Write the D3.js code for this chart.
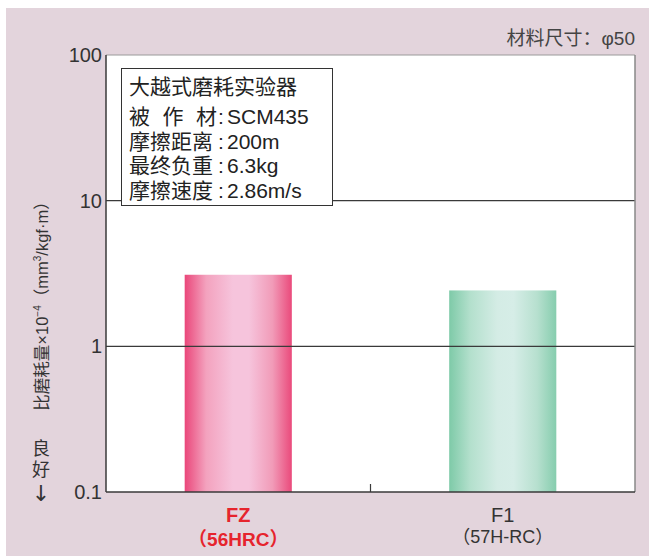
<!DOCTYPE html>
<html>
<head>
<meta charset="utf-8">
<script src="https://cdn.jsdelivr.net/npm/d3@7"></script>
<style>
  body { margin: 0; background: #fff; }
  svg { display: block; font-family: "Liberation Sans", Arial, "Noto Sans CJK SC", sans-serif; }
  .cjk { font-family: "Liberation Sans", "Noto Sans CJK SC", sans-serif; }
</style>
</head>
<body>
<div id="chart"></div>
<script>
const width = 649;
const height = 556;

// data
const materials = ["FZ", "F1"];
const hardness = ["（56HRC）", "（57H-RC）"];
const wearRates = [3.1, 2.42];
const yTicks = [0.1, 1, 10, 100];
const yTickLabels = ["0.1", "1", "10", "100"];
const testLabels = ["被作材", "摩擦距离", "最终负重", "摩擦速度"];
const testValues = ["SCM435", "200m", "6.3kg", "2.86m/s"];

const margin = { top: 55, right: 14, bottom: 64, left: 106 };

const svg = d3.select("#chart")
  .append("svg")
  .attr("width", width)
  .attr("height", height);

// pink background
svg.append("rect")
  .attr("x", 6).attr("y", 8)
  .attr("width", width - 6).attr("height", height - 8)
  .attr("fill", "#e3d4dc");

const x = d3.scaleBand()
  .domain(materials)
  .range([margin.left, width - margin.right])
  .paddingInner(0.595)
  .paddingOuter(0.2975);

const y = d3.scaleLog()
  .domain([0.1, 100])
  .range([height - margin.bottom, margin.top]);

// plot area
svg.append("rect")
  .attr("x", margin.left).attr("y", margin.top)
  .attr("width", width - margin.right - margin.left)
  .attr("height", height - margin.bottom - margin.top)
  .attr("fill", "#fff");

// gradients
const defs = svg.append("defs");
const grads = [
  ["gFZ", ["#ea477a", "#f3a2be", "#f6c4dc", "#f6c4dc", "#f19bb8", "#ea4a7b"]],
  ["gF1", ["#7ecaa8", "#b4e0cd", "#d4ece5", "#d6ede7", "#b7e0cf", "#86cdae"]]
];
const offs = [0, 0.2, 0.45, 0.6, 0.82, 1];
grads.forEach(([id, cols]) => {
  const g = defs.append("linearGradient").attr("id", id)
    .attr("x1", "0%").attr("x2", "100%").attr("y1", "0%").attr("y2", "0%");
  cols.forEach((c, i) => g.append("stop").attr("offset", offs[i]).attr("stop-color", c));
});

// bars
svg.selectAll("rect.bar")
  .data(materials)
  .enter()
  .append("rect")
  .attr("class", "bar")
  .attr("x", d => x(d))
  .attr("width", x.bandwidth())
  .attr("y", (d, i) => y(wearRates[i]))
  .attr("height", (d, i) => y(0.1) - y(wearRates[i]))
  .attr("fill", (d, i) => `url(#${grads[i][0]})`);

// grid lines at 1 and 10
svg.selectAll("line.grid")
  .data([1, 10])
  .enter()
  .append("line")
  .attr("x1", margin.left).attr("x2", width - margin.right)
  .attr("y1", d => y(d)).attr("y2", d => y(d))
  .attr("stroke", "#3a3a3a").attr("stroke-width", 1.2);

// frame
const x0 = margin.left, x1 = width - margin.right;
const yTop = margin.top, yBot = height - margin.bottom;
svg.append("line").attr("x1", x0).attr("x2", x1).attr("y1", yTop).attr("y2", yTop)
  .attr("stroke", "#9a9a9a").attr("stroke-width", 1);
svg.append("line").attr("x1", x1).attr("x2", x1).attr("y1", yTop).attr("y2", yBot)
  .attr("stroke", "#888").attr("stroke-width", 1.5);
svg.append("line").attr("x1", x0).attr("x2", x0).attr("y1", yTop).attr("y2", yBot)
  .attr("stroke", "#3a3a3a").attr("stroke-width", 1.5);
svg.append("line").attr("x1", x0).attr("x2", x1).attr("y1", yBot).attr("y2", yBot)
  .attr("stroke", "#3a3a3a").attr("stroke-width", 1.5);
// middle tick on bottom axis
const midX = (x0 + x1) / 2;
svg.append("line").attr("x1", midX).attr("x2", midX).attr("y1", yBot).attr("y2", yBot - 8)
  .attr("stroke", "#3a3a3a").attr("stroke-width", 1.2);

// y tick labels
svg.selectAll("text.ytick")
  .data(yTicks)
  .enter()
  .append("text")
  .attr("x", margin.left - 4)
  .attr("y", d => y(d))
  .attr("dy", "0.35em")
  .attr("text-anchor", "end")
  .attr("font-size", 20)
  .attr("fill", "#333")
  .text((d, i) => yTickLabels[i]);

// y axis title
const yt = svg.append("text")
  .attr("class", "cjk")
  .attr("transform", `translate(48,${302}) rotate(-90)`)
  .attr("text-anchor", "middle")
  .attr("font-size", 16.5)
  .attr("fill", "#333");
yt.append("tspan").text("比磨耗量×10");
yt.append("tspan").attr("font-size", 10).attr("dy", -7).text("−4");
yt.append("tspan").attr("dy", 7).text("（mm");
yt.append("tspan").attr("font-size", 10).attr("dy", -7).text("3");
yt.append("tspan").attr("dy", 7).text("/kgf·m）");

// 良好 ↓
["良", "好"].forEach((c, i) => {
  svg.append("text")
    .attr("class", "cjk")
    .attr("x", 41).attr("y", 455 + i * 21)
    .attr("text-anchor", "middle")
    .attr("font-size", 18)
    .attr("fill", "#333")
    .text(c);
});
svg.append("text")
  .attr("x", 41).attr("y", 501)
  .attr("text-anchor", "middle")
  .attr("font-family", "DejaVu Sans")
  .attr("font-size", 22)
  .attr("fill", "#333")
  .text("↓");

// material size note
svg.append("text")
  .attr("class", "cjk")
  .attr("x", x1).attr("y", 45)
  .attr("text-anchor", "end")
  .attr("font-size", 19)
  .attr("fill", "#444")
  .text("材料尺寸：φ50");

// x labels
svg.selectAll("text.xname")
  .data(materials)
  .enter()
  .append("text")
  .attr("x", d => x(d) + x.bandwidth() / 2)
  .attr("y", 522)
  .attr("text-anchor", "middle")
  .attr("font-size", 20)
  .attr("font-weight", (d, i) => i === 0 ? "bold" : "normal")
  .attr("fill", (d, i) => i === 0 ? "#e6242d" : "#333")
  .text(d => d);
svg.selectAll("text.xhard")
  .data(materials)
  .enter()
  .append("text")
  .attr("class", "cjk")
  .attr("x", d => x(d) + x.bandwidth() / 2)
  .attr("y", (d, i) => i === 0 ? 546 : 543)
  .attr("text-anchor", "middle")
  .attr("font-size", (d, i) => i === 0 ? 19 : 18)
  .attr("font-weight", (d, i) => i === 0 ? "bold" : "normal")
  .attr("fill", (d, i) => i === 0 ? "#e6242d" : "#333")
  .text((d, i) => hardness[i]);

// info box
const box = svg.append("g");
box.append("rect")
  .attr("x", 121.5).attr("y", 68.5)
  .attr("width", 211).attr("height", 137)
  .attr("fill", "#fff").attr("stroke", "#333").attr("stroke-width", 1);
box.append("text")
  .attr("class", "cjk")
  .attr("x", 129).attr("y", 94)
  .attr("font-size", 21)
  .attr("fill", "#222")
  .text("大越式磨耗实验器");
testLabels.forEach((lab, i) => {
  const ty = 124 + i * 24.7;
  const t = box.append("text")
    .attr("class", "cjk")
    .attr("y", ty)
    .attr("font-size", 21)
    .attr("fill", "#222");
  const step = lab.length === 3 ? 33.5 : 21;
  [...lab].forEach((c, k) => t.append("tspan").attr("x", 129 + k * step).text(c));
  box.append("text")
    .attr("x", 218).attr("y", ty)
    .attr("font-size", 21)
    .attr("fill", "#222")
    .text(":");
  box.append("text")
    .attr("x", 227).attr("y", ty)
    .attr("font-size", 21)
    .attr("fill", "#222")
    .text(testValues[i]);
});
</script>
</body>
</html>
